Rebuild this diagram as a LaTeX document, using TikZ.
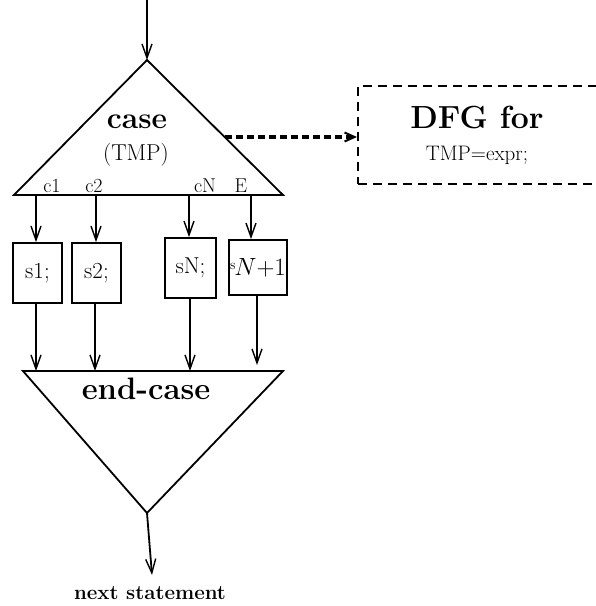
\documentclass[tikz,border=0pt]{standalone}
\usetikzlibrary{arrows.meta}
\begin{document}
\begin{tikzpicture}[x=1pt,y=-1pt,
  line width=1.8pt,
  tip/.style={-{Straight Barb[length=14pt,width=10pt,line width=1.4pt]}},
  stmt/.style={draw,line width=1.8pt,inner sep=0pt,font=\fontsize{23}{23}\selectfont},
  big/.style={font=\fontsize{30}{30}\selectfont\bfseries,anchor=base,inner sep=0pt},
  lbl/.style={font=\fontsize{20}{20}\selectfont,anchor=base,inner sep=0pt}]
\useasboundingbox (0,0) rectangle (596,606);

% case triangle
\coordinate (in) at (147,0);
\coordinate (apex) at (147,60);
\coordinate (bl) at (14,195);
\coordinate (br) at (283,195);
\draw[line join=miter] (apex) -- (bl) -- (br) -- cycle;
\draw[tip] (in) -- (apex);
\node[big] (case) at (137,128) {case};
\node[lbl,font=\fontsize{23}{23}\selectfont] (tmp) at (136,160) {(TMP)};
\node[lbl] (c1) at (52,192) {c1};
\node[lbl] (c2) at (94,192) {c2};
\node[lbl] (cN) at (205,192) {cN};
\node[lbl] (cE) at (241,192) {E};

% branch points on the base
\coordinate (b1) at (36,195);
\coordinate (b2) at (96,195);
\coordinate (b3) at (189,195);
\coordinate (b4) at (251,195);

% statement boxes
\node[stmt,minimum width=49pt,minimum height=60pt] (s1) at (37.5,273) {s1;};
\node[stmt,minimum width=49pt,minimum height=60pt] (s2) at (96.5,273) {s2;};
\node[stmt,minimum width=51pt,minimum height=60pt] (sN) at (190.5,268) {sN;};
\node[stmt,minimum width=58pt,minimum height=55pt] (sN1) at (258,267.5)
  {\raisebox{6pt}{\fontsize{14}{14}\selectfont s}\kern-1pt$N{+}1$};

\draw[tip] (b1) -- (b1 |- s1.north);
\draw[tip] (b2) -- (b2 |- s2.north);
\draw[tip] (b3) -- (b3 |- sN.north);
\draw[tip] (b4) -- (b4 |- sN1.north);

% end-case triangle
\coordinate (el) at (23,371);
\coordinate (er) at (283,371);
\coordinate (ebot) at (147,513);
\draw[line join=miter] (el) -- (er) -- (ebot) -- cycle;
\node[big,font=\fontsize{31}{31}\selectfont\bfseries] (endcase) at (146,399) {end-case};

\draw[tip] (36,303) -- (36,371);
\draw[tip] (95,303) -- (95,371);
\draw[tip] (190,298) -- (190,371);
\draw[tip] (257,295) -- (257,365);

% exit
\coordinate (out) at (152,575);
\draw[tip] (ebot) -- (out);
\node[anchor=base,inner sep=0pt,font=\fontsize{20.5}{21}\selectfont\bfseries] (next) at (150,599) {next statement};

% data-flow graph of the selector expression
\node[draw,dashed,dash pattern=on 9pt off 6pt,line width=1.8pt,anchor=north west,
  minimum width=243pt,minimum height=98pt,inner sep=0pt] (dfg) at (357,85) {};
\node[big,font=\fontsize{32}{32}\selectfont\bfseries] (dfgt) at (477,128) {DFG for};
\node[lbl,font=\fontsize{21}{21}\selectfont] (dfge) at (477,160) {TMP=expr;};

\coordinate (sel) at (225,137);
\draw[line width=3.2pt,dash pattern=on 7pt off 4pt,
  -{Straight Barb[length=10pt,width=9pt,line width=2pt]}] (sel) -- (dfg.west |- sel);
\end{tikzpicture}
\end{document}
